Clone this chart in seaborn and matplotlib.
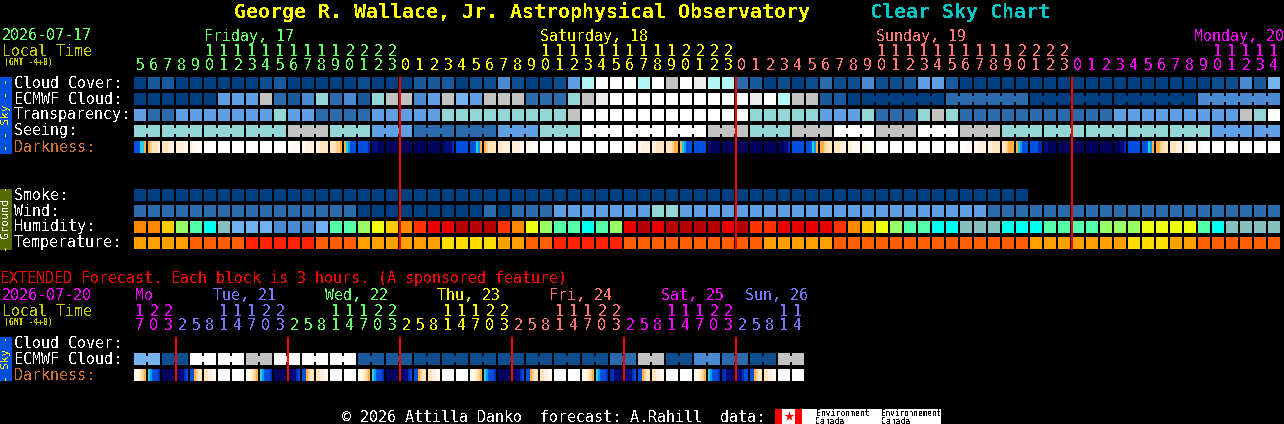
import numpy as np
import matplotlib
matplotlib.use('Agg')
import matplotlib.pyplot as plt
import seaborn as sns
from matplotlib.colors import ListedColormap

# sky rows, 0 = darkest blue .. 11 = white
CLOUD_COVER = [0, 2, 2, 0, 0, 0, 0, 0, 0, 1,
               2, 0, 0, 0, 0, 0, 1, 0, 0, 0,
               2, 2, 2, 0, 1, 1, 4, 1, 0, 0,
               1, 5, 8, 11, 11, 11, 8, 11, 9, 11,
               10, 8, 8, 3, 2, 0, 1, 0, 1, 3,
               1, 1, 4, 1, 1, 2, 5, 5, 2, 0,
               0, 0, 0, 0, 0, 0, 0, 0, 0, 0,
               0, 0, 0, 0, 0, 0, 0, 1, 1, 4,
               2, 6]
ECMWF_CLOUD = [0, 0, 0, 0, 0, 0, 5, 5, 5, 9,
               3, 2, 4, 7, 3, 4, 2, 7, 9, 9,
               4, 5, 9, 6, 5, 9, 9, 9, 3, 3,
               3, 7, 9, 10, 11, 11, 11, 11, 11, 11,
               11, 11, 11, 11, 10, 11, 8, 9, 9, 2,
               2, 0, 0, 0, 0, 0, 0, 0, 3, 3,
               3, 3, 3, 3, 0, 0, 0, 0, 0, 0,
               0, 0, 0, 0, 0, 0, 4, 4, 4, 4,
               4, 4]
ECMWF_RUNS = [1] * 52 + [6, 6, 6, 6, 6]
TRANSPARENCY = [5, 3, 3, 5, 5, 5, 5, 5, 5, 5,
                7, 5, 5, 3, 3, 3, 3, 5, 5, 5,
                5, 5, 7, 7, 7, 7, 7, 7, 7, 7,
                7, 9, 11, 11, 11, 11, 11, 11, 11, 11,
                11, 11, 11, 11, 7, 7, 7, 7, 7, 5,
                5, 5, 7, 3, 3, 3, 7, 9, 7, 3,
                3, 3, 3, 3, 3, 3, 3, 3, 3, 3,
                5, 5, 5, 5, 5, 5, 5, 5, 5, 9,
                7, 11]
SEEING_BLOCKS = [7, 7, 7, 7, 9, 7, 5, 3, 3, 5, 7, 11, 11, 11,
                 9, 7, 9, 11, 9, 11, 9, 7, 7, 7, 7, 7, 5, 5]
SEEING_RUNS = [2] + [3] * 26 + [2]
SMOKE = [0, 0, 0, 0, 0, 0, 0, 0, 0, 0, 0, 0, 0, 0, 0, 0,
         0, 0, 0, 0, 0, 0, 0, 0, 0, 0, 0, 0, 0, 0, 0, 0,
         0, 0, 0, 0, 0, 0, 0, 0, 0, 0, 0, 0, 0, 0, 0, 0,
         0, 0, 0, 0, 0, 0, 0, 0, 0, 0, 0, 0, 0, 0, 0, 0]
WIND = [3, 3, 3, 3, 3, 3, 3, 3, 3, 3,
        3, 3, 3, 3, 3, 3, 0, 0, 0, 0,
        0, 0, 0, 0, 0, 3, 0, 3, 3, 3,
        5, 5, 5, 5, 5, 5, 5, 7, 7, 5,
        5, 5, 5, 5, 5, 5, 5, 5, 5, 5,
        5, 5, 5, 5, 5, 5, 5, 5, 5, 5,
        5, 3, 3, 3, 3, 3, 3, 3, 3, 3,
        3, 3, 3, 3, 3, 3, 3, 3, 3, 3,
        3, 3]
HUMIDITY = [3, 3, 4, 6, 7, 8, 9, 10, 10, 10,
            11, 11, 11, 10, 7, 7, 6, 5, 4, 3,
            2, 1, 1, 0, 0, 0, 2, 3, 5, 6,
            7, 7, 8, 7, 6, 1, 0, 1, 0, 0,
            0, 0, 1, 0, 2, 2, 1, 1, 1, 1,
            2, 3, 4, 5, 6, 7, 7, 8, 8, 9,
            9, 9, 8, 8, 8, 7, 7, 7, 7, 6,
            6, 6, 5, 5, 5, 5, 7, 8, 9, 9,
            9, 9]
TEMPERATURE = [2, 2, 2, 2, 1, 1, 1, 1, 0, 0,
               0, 0, 0, 1, 1, 1, 2, 2, 2, 2,
               2, 2, 3, 3, 3, 3, 2, 2, 1, 1,
               0, 0, 0, 0, 0, 1, 1, 1, 1, 1,
               1, 1, 1, 1, 1, 2, 2, 2, 2, 2,
               1, 1, 1, 1, 1, 1, 1, 1, 1, 1,
               1, 1, 1, 1, 2, 2, 2, 2, 2, 2,
               2, 3, 3, 3, 2, 2, 1, 1, 1, 1,
               1, 1]
# six samples across each block, hex digit into DARK_COLORS
DARKNESS = ["888665", "543332", "333222", "222211", "211100",
            "000000", "000000", "000000", "000000", "000000", "000000",
            "001111", "112222", "223333", "333445", "567888", "888889",
            "aaabbb", "bbbbbb", "bbbbbb", "bbbbbb", "bbbbbb", "baaaa9",
            "888888", "888675", "543333", "332222", "222211", "111000",
            "000000", "000000", "000000", "000000", "000000", "000000",
            "000111", "112222", "223333", "333455", "567888", "888888",
            "abbbbb", "bbbbbb", "bbbbbb", "bbbbbb", "bbbbbb", "bbbaa9",
            "888888", "888675", "554333", "333222", "221111", "111000",
            "000000", "000000", "000000", "000000", "000000", "000000",
            "000111", "112222", "223333", "334555", "567888", "888899",
            "aabbbb", "bbbbbb", "bbbbbb", "bbbbbb", "bbbbbb", "bbbaa9",
            "888888", "888675", "554333", "333222", "221111", "110000",
            "000000", "000000", "000000", "000000", "000000"]
HOURS = [5, 6, 7, 8, 9, 10, 11, 12, 13, 14, 15, 16, 17, 18, 19, 20, 21, 22, 23,
         0, 1, 2, 3, 4, 5, 6, 7, 8, 9, 10, 11, 12, 13, 14, 15, 16, 17, 18, 19, 20, 21, 22, 23,
         0, 1, 2, 3, 4, 5, 6, 7, 8, 9, 10, 11, 12, 13, 14, 15, 16, 17, 18, 19, 20, 21, 22, 23,
         0, 1, 2, 3, 4, 5, 6, 7, 8, 9, 10, 11, 12, 13, 14]
DAY_RUNS = [19, 24, 24, 15]
DAY_COLORS = ['#66ff66', '#ffff00', '#ff7777', '#ff00ff']
DAY_NAMES = ['Friday, 17', 'Saturday, 18', 'Sunday, 19', 'Monday, 20']
DAY_X = [204, 540, 876, 1194]

# extended forecast
EXT_ECMWF_BLOCKS = [6, 1, 11, 11, 9, 11, 11, 11, 2, 2, 1, 1,
                    1, 1, 1, 1, 1, 3, 9, 1, 4, 3, 1, 9]
EXT_RUNS = [2] * 24
EXT_DARKNESS = ["111345", "678889", "bbbbbb", "bbaa98", "885433", "332211", "000000", "000000",
                "112345", "678889", "bbbbbb", "bbaa98", "885433", "332211", "000000", "000000",
                "112345", "678889", "bbbbbb", "bbaa98", "885433", "332211", "000000", "000000",
                "112345", "678889", "bbbbbb", "bbaa98", "885433", "332211", "000000", "000000",
                "112345", "678889", "99aabb", "baaa98", "885433", "332211", "000000", "000000",
                "112345", "678889", "99aabb", "baa988", "885433", "332211", "000000", "000000"]
EXT_HOURS = [17, 20, 23,
             2, 5, 8, 11, 14, 17, 20, 23,
             2, 5, 8, 11, 14, 17, 20, 23,
             2, 5, 8, 11, 14, 17, 20, 23,
             2, 5, 8, 11, 14, 17, 20, 23,
             2, 5, 8, 11, 14, 17, 20, 23,
             2, 5, 8, 11, 14]
EXT_DAY_RUNS = [3, 8, 8, 8, 8, 8, 5]
EXT_DAY_COLORS = ['#ff00ff', '#7777ff', '#66ff66', '#ffff00', '#ff7777', '#ff00ff', '#7777ff']
EXT_DAY_NAMES = ['Mo', 'Tue, 21', 'Wed, 22', 'Thu, 23', 'Fri, 24', 'Sat, 25', 'Sun, 26']
EXT_DAY_X = [135, 213, 325, 437, 549, 661, 745]

ROW_LABELS = ['Cloud Cover:', 'ECMWF Cloud:', 'Transparency:', 'Seeing:', 'Darkness:']
GROUND_LABELS = ['Smoke:', 'Wind:', 'Humidity:', 'Temperature:']
EXT_LABELS = ['Cloud Cover:', 'ECMWF Cloud:', 'Darkness:']

SKY_COLORS = ['#003f7f', '#0e4d8e', '#1a5a9c', '#2c6bab', '#4a8ad0', '#5f9fe3',
              '#76b4f0', '#94d5d5', '#b3f6f6', '#c2c2c2', '#ececec', '#ffffff']
HUMIDITY_COLORS = ['#b40000', '#e80000', '#ff3300', '#ff8800', '#ffcc00', '#eeff11',
                   '#99ff66', '#55ffaa', '#00ffee', '#84c0c0', '#70b0f0', '#4a8ad0']
TEMP_COLORS = ['#ff2200', '#ff5f00', '#ff9f00', '#ffdd00']
DARK_COLORS = ['#ffffff', '#fff9f0', '#fff0dc', '#ffe4bc', '#ffcf88', '#ffae40',
               '#20d0e0', '#0a9ae8', '#0050e0', '#0030b8', '#000e80', '#00045c']

W, H = 1284, 424
MONO = 'DejaVu Sans Mono'
sns.set_theme(style='dark')
plt.rcParams['text.antialiased'] = False
fig = plt.figure(figsize=(W / 100, H / 100), dpi=100, facecolor='black')


def to_grid(cells, runs=None):
    # one block is 6 columns plus a 1 column gap, 4 rows tall
    grid = np.full((4, 7 * len(cells)), np.nan)
    for i, samples in enumerate(cells):
        grid[:, 7 * i:7 * i + 6] = samples
    start = 0
    for run in runs or []:
        for k in range(start, start + run - 1):
            grid[1:3, 7 * k + 6] = cells[k]
        start += run
    return grid


def draw_row(top, grid, colors):
    ax = fig.add_axes([134 / W, 1 - (top + 12) / H, grid.shape[1] * 2 / W, 12 / H])
    sns.heatmap(grid, ax=ax, cmap=ListedColormap(colors), vmin=-0.5, vmax=len(colors) - 0.5,
                cbar=False, xticklabels=False, yticklabels=False)
    ax.axis('off')


def hex_cells(rows):
    return [[int(c, 16) for c in s] for s in rows]


draw_row(77, to_grid(CLOUD_COVER), SKY_COLORS)
draw_row(93, to_grid(ECMWF_CLOUD, ECMWF_RUNS), SKY_COLORS)
draw_row(109, to_grid(TRANSPARENCY), SKY_COLORS)
draw_row(125, to_grid(np.repeat(SEEING_BLOCKS, SEEING_RUNS).tolist(), SEEING_RUNS), SKY_COLORS)
draw_row(141, to_grid(hex_cells(DARKNESS)), DARK_COLORS)
draw_row(189, to_grid(SMOKE), SKY_COLORS)
draw_row(205, to_grid(WIND), SKY_COLORS)
draw_row(221, to_grid(HUMIDITY), HUMIDITY_COLORS)
draw_row(237, to_grid(TEMPERATURE), TEMP_COLORS)
draw_row(353, to_grid(np.repeat(EXT_ECMWF_BLOCKS, EXT_RUNS).tolist(), EXT_RUNS), SKY_COLORS)
draw_row(369, to_grid(hex_cells(EXT_DARKNESS)), DARK_COLORS)

# overlay in pixel coordinates for text and markers
ov = fig.add_axes([0, 0, 1, 1])
ov.set_xlim(0, W)
ov.set_ylim(H, 0)
ov.axis('off')


def txt(x, y, s, color='white', px=15, **kw):
    kw.setdefault('ha', 'left')
    ov.text(x, y, s, color=color, fontsize=px * 0.72, family=MONO, va='center', **kw)


def hour_labels(hours, runs, colors, y_tens, y_ones):
    day_colors = np.repeat(colors, runs)
    for i, (h, c) in enumerate(zip(hours, day_colors)):
        x = 140 + 14 * i
        txt(x, y_ones, str(h % 10), c, ha='center')
        if h >= 10:
            txt(x, y_tens, str(h // 10), c, ha='center')


txt(234, 12, 'George R. Wallace, Jr. Astrophysical Observatory', '#ffff00', px=20, weight='bold')
txt(870, 12, 'Clear Sky Chart', '#00c8c8', px=20, weight='bold')

txt(2, 36, '2026-07-17', DAY_COLORS[0])
txt(2, 51.5, 'Local Time', '#c8c800')
txt(4, 62, '(GMT -4+0)', '#c8c800', px=8, weight='bold')
for name, x, c in zip(DAY_NAMES, DAY_X, DAY_COLORS):
    txt(x, 36, name, c)
hour_labels(HOURS, DAY_RUNS, DAY_COLORS, 51, 65)

for lab, y in zip(ROW_LABELS, [83, 99, 115, 131, 147]):
    txt(14, y, lab, '#d07030' if lab == 'Darkness:' else 'white')
for lab, y in zip(GROUND_LABELS, [195, 211, 227, 243]):
    txt(14, y, lab)

txt(0, 278, 'EXTENDED Forecast. Each block is 3 hours. (A sponsored feature)', '#ff0000')
txt(2, 296, '2026-07-20', '#ff00ff')
txt(2, 312, 'Local Time', '#c8c800')
txt(4, 322, '(GMT -4+0)', '#c8c800', px=8, weight='bold')
for name, x, c in zip(EXT_DAY_NAMES, EXT_DAY_X, EXT_DAY_COLORS):
    txt(x, 296, name, c)
hour_labels(EXT_HOURS, EXT_DAY_RUNS, EXT_DAY_COLORS, 311, 326)
for lab, y in zip(EXT_LABELS, [343, 359, 375]):
    txt(14, y, lab, '#d07030' if lab == 'Darkness:' else 'white')

# side tabs
ov.fill_between([0, 12], 77, 154, color='#0050e0', lw=0)
ov.fill_between([0, 12], 189, 250, color='#556b00', lw=0)
ov.fill_between([0, 12], 337, 381, color='#0050e0', lw=0)
txt(6, 115, '- - Sky - -', '#ffff00', px=11, ha='center', rotation=90, rotation_mode='anchor')
txt(6, 219, '- Ground -', 'white', px=11, ha='center', rotation=90, rotation_mode='anchor')
txt(6, 359, '- Sky -', '#ffff00', px=11, ha='center', rotation=90, rotation_mode='anchor')

# midnight markers
ov.vlines([400, 736, 1072], 77, 250, color='#ff0000', lw=1.44)
ov.vlines([176, 288, 400, 512, 624, 736], 337, 381, color='#ff0000', lw=1.44)

# footer with logo
txt(342, 417, '\u00a9 2026 Attilla Danko  forecast: A.Rahill  data:')
ov.fill_between([775, 941], 409, 424, color='white', lw=0)
ov.fill_between([775, 782], 409, 424, color='#ff0000', lw=0)
ov.fill_between([795, 802], 409, 424, color='#ff0000', lw=0)
ov.scatter([788.5], [416], marker='*', s=55, color='#ff0000', lw=0)
txt(816, 413, 'Environment', 'black', px=8)
txt(816, 421, 'Canada', 'black', px=8)
txt(881, 413, 'Environnement', 'black', px=7.6)
txt(881, 421, 'Canada', 'black', px=8)

fig.savefig('out.png', dpi=100, facecolor='black')
